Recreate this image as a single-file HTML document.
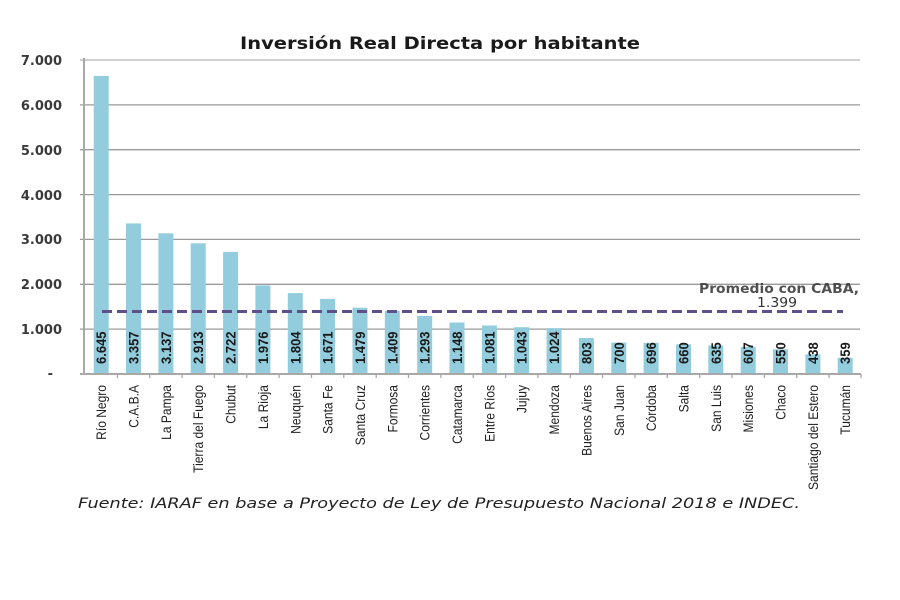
<!DOCTYPE html>
<html><head><meta charset="utf-8"><style>
html,body{margin:0;padding:0;background:#fff;}
svg{display:block;}
</style></head><body>
<svg width="900" height="600" viewBox="0 0 900 600" xmlns="http://www.w3.org/2000/svg">
<rect width="900" height="600" fill="#fff"/>
<text x="240" y="49" font-family="DejaVu Sans, Liberation Sans, sans-serif" font-weight="bold" font-size="17" fill="#1a1a1a" textLength="400" lengthAdjust="spacingAndGlyphs">Inversión Real Directa por habitante</text>
<g stroke="#9a9a9a" stroke-width="1.3">
<line x1="80" y1="60" x2="860" y2="60" stroke="#b5b5b5"/>
<line x1="80" y1="104.9" x2="860" y2="104.9"/>
<line x1="80" y1="149.7" x2="860" y2="149.7"/>
<line x1="80" y1="194.6" x2="860" y2="194.6"/>
<line x1="80" y1="239.4" x2="860" y2="239.4"/>
<line x1="80" y1="284.3" x2="860" y2="284.3"/>
<line x1="80" y1="329.1" x2="860" y2="329.1"/>
</g>
<g font-family="DejaVu Sans, Liberation Sans, sans-serif" font-weight="bold" font-size="13" fill="#3a3a3a" text-anchor="end">
<text x="62" y="65">7.000</text>
<text x="62" y="110">6.000</text>
<text x="62" y="155">5.000</text>
<text x="62" y="200">4.000</text>
<text x="62" y="244">3.000</text>
<text x="62" y="289">2.000</text>
<text x="62" y="334">1.000</text>
<text x="53" y="378">-</text>
</g>
<g fill="#93cddd">
<rect x="93.7" y="75.9" width="15" height="298.1"/>
<rect x="126.0" y="223.4" width="15" height="150.6"/>
<rect x="158.4" y="233.3" width="15" height="140.7"/>
<rect x="190.7" y="243.3" width="15" height="130.7"/>
<rect x="223.1" y="251.9" width="15" height="122.1"/>
<rect x="255.4" y="285.4" width="15" height="88.6"/>
<rect x="287.8" y="293.1" width="15" height="80.9"/>
<rect x="320.1" y="299.0" width="15" height="75.0"/>
<rect x="352.5" y="307.7" width="15" height="66.3"/>
<rect x="384.8" y="310.8" width="15" height="63.2"/>
<rect x="417.2" y="316.0" width="15" height="58.0"/>
<rect x="449.5" y="322.5" width="15" height="51.5"/>
<rect x="481.9" y="325.5" width="15" height="48.5"/>
<rect x="514.2" y="327.2" width="15" height="46.8"/>
<rect x="546.6" y="328.1" width="15" height="45.9"/>
<rect x="578.9" y="338.0" width="15" height="36.0"/>
<rect x="611.3" y="342.6" width="15" height="31.4"/>
<rect x="643.6" y="342.8" width="15" height="31.2"/>
<rect x="676.0" y="344.4" width="15" height="29.6"/>
<rect x="708.3" y="345.5" width="15" height="28.5"/>
<rect x="740.7" y="346.8" width="15" height="27.2"/>
<rect x="773.0" y="349.3" width="15" height="24.7"/>
<rect x="805.4" y="354.4" width="15" height="19.6"/>
<rect x="837.7" y="357.9" width="15" height="16.1"/>
</g>
<line x1="84" y1="58" x2="84" y2="375" stroke="#a8a8a8" stroke-width="2"/>
<line x1="80" y1="374" x2="861" y2="374" stroke="#a8a8a8" stroke-width="2"/>
<g stroke="#a8a8a8" stroke-width="1.3">
<line x1="117.4" y1="374" x2="117.4" y2="378"/><line x1="149.7" y1="374" x2="149.7" y2="378"/><line x1="182.1" y1="374" x2="182.1" y2="378"/><line x1="214.4" y1="374" x2="214.4" y2="378"/><line x1="246.8" y1="374" x2="246.8" y2="378"/><line x1="279.1" y1="374" x2="279.1" y2="378"/><line x1="311.5" y1="374" x2="311.5" y2="378"/><line x1="343.8" y1="374" x2="343.8" y2="378"/><line x1="376.2" y1="374" x2="376.2" y2="378"/><line x1="408.5" y1="374" x2="408.5" y2="378"/><line x1="440.9" y1="374" x2="440.9" y2="378"/><line x1="473.2" y1="374" x2="473.2" y2="378"/><line x1="505.6" y1="374" x2="505.6" y2="378"/><line x1="537.9" y1="374" x2="537.9" y2="378"/><line x1="570.3" y1="374" x2="570.3" y2="378"/><line x1="602.6" y1="374" x2="602.6" y2="378"/><line x1="635.0" y1="374" x2="635.0" y2="378"/><line x1="667.3" y1="374" x2="667.3" y2="378"/><line x1="699.7" y1="374" x2="699.7" y2="378"/><line x1="732.0" y1="374" x2="732.0" y2="378"/><line x1="764.4" y1="374" x2="764.4" y2="378"/><line x1="796.7" y1="374" x2="796.7" y2="378"/><line x1="829.1" y1="374" x2="829.1" y2="378"/><line x1="861" y1="374" x2="861" y2="378"/>
</g>
<line x1="102" y1="311.5" x2="843" y2="311.5" stroke="#5e5089" stroke-width="3" stroke-dasharray="10,5"/>
<text x="699" y="293" font-family="DejaVu Sans, Liberation Sans, sans-serif" font-size="13" font-weight="bold" fill="#333" textLength="160" lengthAdjust="spacingAndGlyphs" opacity="0.85">Promedio con CABA,</text>
<text x="757" y="307" font-family="DejaVu Sans, Liberation Sans, sans-serif" font-size="13" fill="#333" textLength="40" lengthAdjust="spacingAndGlyphs">1.399</text>
<g font-family="Liberation Sans, sans-serif" font-weight="bold" font-size="14" fill="#1a1a1a" text-anchor="start">
<text transform="translate(106.2,364) rotate(-90) scale(0.93,1)">6.645</text>
<text transform="translate(138.5,364) rotate(-90) scale(0.93,1)">3.357</text>
<text transform="translate(170.9,364) rotate(-90) scale(0.93,1)">3.137</text>
<text transform="translate(203.2,364) rotate(-90) scale(0.93,1)">2.913</text>
<text transform="translate(235.6,364) rotate(-90) scale(0.93,1)">2.722</text>
<text transform="translate(267.9,364) rotate(-90) scale(0.93,1)">1.976</text>
<text transform="translate(300.3,364) rotate(-90) scale(0.93,1)">1.804</text>
<text transform="translate(332.6,364) rotate(-90) scale(0.93,1)">1.671</text>
<text transform="translate(365.0,364) rotate(-90) scale(0.93,1)">1.479</text>
<text transform="translate(397.3,364) rotate(-90) scale(0.93,1)">1.409</text>
<text transform="translate(429.7,364) rotate(-90) scale(0.93,1)">1.293</text>
<text transform="translate(462.0,364) rotate(-90) scale(0.93,1)">1.148</text>
<text transform="translate(494.4,364) rotate(-90) scale(0.93,1)">1.081</text>
<text transform="translate(526.7,364) rotate(-90) scale(0.93,1)">1.043</text>
<text transform="translate(559.1,364) rotate(-90) scale(0.93,1)">1.024</text>
<text transform="translate(591.4,364) rotate(-90) scale(0.93,1)">803</text>
<text transform="translate(623.8,364) rotate(-90) scale(0.93,1)">700</text>
<text transform="translate(656.1,364) rotate(-90) scale(0.93,1)">696</text>
<text transform="translate(688.5,364) rotate(-90) scale(0.93,1)">660</text>
<text transform="translate(720.8,364) rotate(-90) scale(0.93,1)">635</text>
<text transform="translate(753.2,364) rotate(-90) scale(0.93,1)">607</text>
<text transform="translate(785.5,364) rotate(-90) scale(0.93,1)">550</text>
<text transform="translate(817.9,364) rotate(-90) scale(0.93,1)">438</text>
<text transform="translate(850.2,364) rotate(-90) scale(0.93,1)">359</text>
</g>
<g font-family="Liberation Sans, sans-serif" font-size="14" fill="#222" text-anchor="end">
<text transform="translate(106.2,385) rotate(-90) scale(0.86,1)">Río Negro</text>
<text transform="translate(138.5,385) rotate(-90) scale(0.86,1)">C.A.B.A</text>
<text transform="translate(170.9,385) rotate(-90) scale(0.86,1)">La Pampa</text>
<text transform="translate(203.2,385) rotate(-90) scale(0.86,1)">Tierra del Fuego</text>
<text transform="translate(235.6,385) rotate(-90) scale(0.86,1)">Chubut</text>
<text transform="translate(267.9,385) rotate(-90) scale(0.86,1)">La Rioja</text>
<text transform="translate(300.3,385) rotate(-90) scale(0.86,1)">Neuquén</text>
<text transform="translate(332.6,385) rotate(-90) scale(0.86,1)">Santa Fe</text>
<text transform="translate(365.0,385) rotate(-90) scale(0.86,1)">Santa Cruz</text>
<text transform="translate(397.3,385) rotate(-90) scale(0.86,1)">Formosa</text>
<text transform="translate(429.7,385) rotate(-90) scale(0.86,1)">Corrientes</text>
<text transform="translate(462.0,385) rotate(-90) scale(0.86,1)">Catamarca</text>
<text transform="translate(494.4,385) rotate(-90) scale(0.86,1)">Entre Ríos</text>
<text transform="translate(526.7,385) rotate(-90) scale(0.86,1)">Jujuy</text>
<text transform="translate(559.1,385) rotate(-90) scale(0.86,1)">Mendoza</text>
<text transform="translate(591.4,385) rotate(-90) scale(0.86,1)">Buenos Aires</text>
<text transform="translate(623.8,385) rotate(-90) scale(0.86,1)">San Juan</text>
<text transform="translate(656.1,385) rotate(-90) scale(0.86,1)">Córdoba</text>
<text transform="translate(688.5,385) rotate(-90) scale(0.86,1)">Salta</text>
<text transform="translate(720.8,385) rotate(-90) scale(0.86,1)">San Luis</text>
<text transform="translate(753.2,385) rotate(-90) scale(0.86,1)">Misiones</text>
<text transform="translate(785.5,385) rotate(-90) scale(0.86,1)">Chaco</text>
<text transform="translate(817.9,385) rotate(-90) scale(0.86,1)">Santiago del Estero</text>
<text transform="translate(850.2,385) rotate(-90) scale(0.86,1)">Tucumán</text>
</g>
<text x="78" y="508" font-family="DejaVu Sans, Liberation Sans, sans-serif" font-style="italic" font-size="14.5" fill="#222" textLength="722" lengthAdjust="spacingAndGlyphs">Fuente: IARAF en base a Proyecto de Ley de Presupuesto Nacional 2018 e INDEC.</text>
</svg>
</body></html>
